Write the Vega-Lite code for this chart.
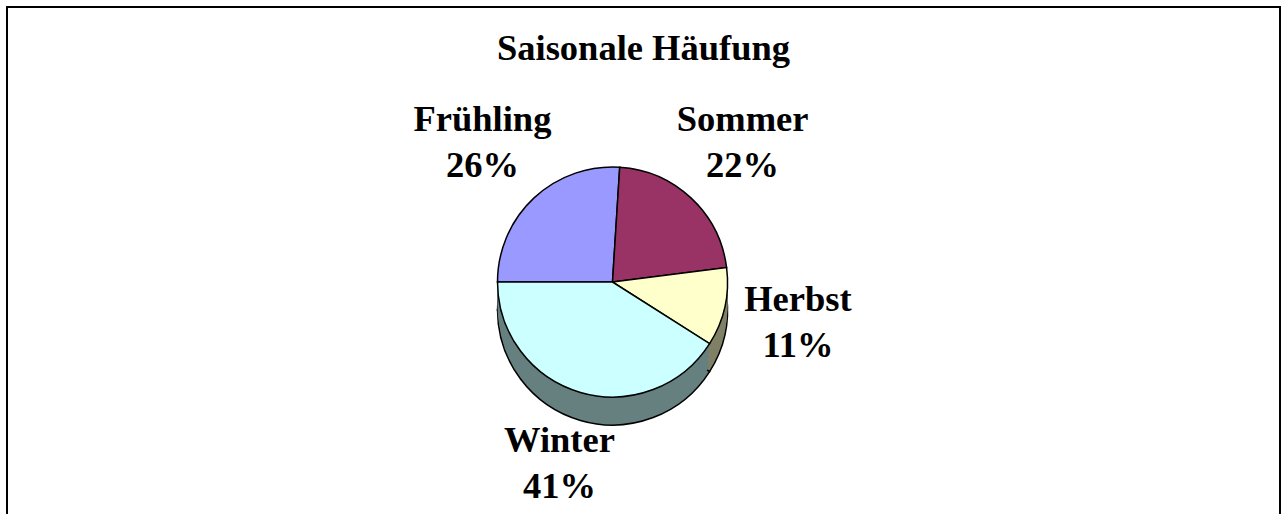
{
  "$schema": "https://vega.github.io/schema/vega-lite/v6.json",
  "width": 1273,
  "height": 550,
  "autosize": {"type": "none"},
  "padding": {"left": 7, "top": 7, "right": 5, "bottom": 0},
  "background": "white",
  "view": {"stroke": "black", "strokeWidth": 2, "fill": "white"},
  "title": {
    "text": "Saisonale Häufung",
    "font": "Liberation Serif",
    "fontSize": 36.5,
    "fontWeight": "bold",
    "color": "black",
    "anchor": "middle",
    "frame": "group",
    "offset": 0,
    "dy": 89,
    "baseline": "alphabetic"
  },
  "data": {
    "values": [
      {"Jahreszeit": "Frühling", "Anteil": 0.26, "Nr": 1},
      {"Jahreszeit": "Sommer", "Anteil": 0.22, "Nr": 2},
      {"Jahreszeit": "Herbst", "Anteil": 0.11, "Nr": 3},
      {"Jahreszeit": "Winter", "Anteil": 0.41, "Nr": 4}
    ]
  },
  "encoding": {
    "theta": {"field": "Anteil", "type": "quantitative", "stack": true, "scale": {"range": [4.71238898, 10.99557429]}},
    "order": {"field": "Nr", "type": "quantitative"}
  },
  "layer": [
    {
      "mark": {"type": "arc", "radius": 115, "xOffset": -31, "yOffset": 28, "stroke": "black", "strokeWidth": 1.5},
      "encoding": {"fill": {"field": "Jahreszeit", "type": "nominal", "scale": {"domain": ["Frühling", "Sommer", "Herbst", "Winter"], "range": ["#666699", "#662244", "#808066", "#668080"]}, "legend": null}}
    },
    {
      "mark": {"type": "arc", "radius": 115, "xOffset": -31, "yOffset": 23, "strokeWidth": 0},
      "encoding": {"fill": {"field": "Jahreszeit", "type": "nominal", "legend": null}}
    },
    {
      "mark": {"type": "arc", "radius": 115, "xOffset": -31, "yOffset": 18, "strokeWidth": 0},
      "encoding": {"fill": {"field": "Jahreszeit", "type": "nominal", "legend": null}}
    },
    {
      "mark": {"type": "arc", "radius": 115, "xOffset": -31, "yOffset": 13, "strokeWidth": 0},
      "encoding": {"fill": {"field": "Jahreszeit", "type": "nominal", "legend": null}}
    },
    {
      "mark": {"type": "arc", "radius": 115, "xOffset": -31, "yOffset": 8, "strokeWidth": 0},
      "encoding": {"fill": {"field": "Jahreszeit", "type": "nominal", "legend": null}}
    },
    {
      "mark": {"type": "arc", "radius": 115, "xOffset": -31, "yOffset": 3, "strokeWidth": 0},
      "encoding": {"fill": {"field": "Jahreszeit", "type": "nominal", "legend": null}}
    },
    {
      "mark": {"type": "arc", "radius": 115, "xOffset": -31, "stroke": "black", "strokeWidth": 1.5},
      "encoding": {"color": {"field": "Jahreszeit", "type": "nominal", "scale": {"domain": ["Frühling", "Sommer", "Herbst", "Winter"], "range": ["#9999FF", "#993366", "#FFFFCC", "#CCFFFF"]}, "legend": null}}
    },
    {
      "mark": {"type": "text", "radius": 190, "xOffset": -31, "dy": -23, "font": "Liberation Serif", "fontSize": 36.5, "fontWeight": "bold", "fill": "black"},
      "encoding": {"text": {"field": "Jahreszeit", "type": "nominal"}}
    },
    {
      "mark": {"type": "text", "radius": 190, "xOffset": -31, "dy": 23, "font": "Liberation Serif", "fontSize": 36.5, "fontWeight": "bold", "fill": "black"},
      "encoding": {"text": {"field": "Anteil", "type": "quantitative", "format": ".0%"}}
    }
  ]
}
